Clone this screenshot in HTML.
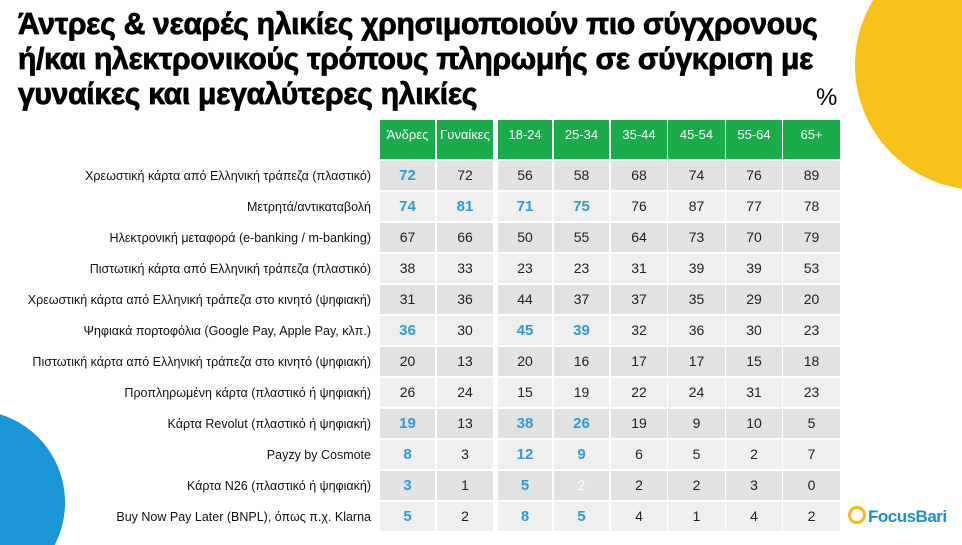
<!DOCTYPE html>
<html><head><meta charset="utf-8"><style>
html,body{margin:0;width:962px;height:545px;overflow:hidden}
body{background:#fff;font-family:"Liberation Sans",sans-serif}
#w{position:relative;width:962px;height:545px;overflow:hidden}
svg.bg{position:absolute;left:0;top:0}
.t{position:absolute;left:18px;top:6px;font-weight:900;font-size:31px;line-height:35px;color:#000;transform-origin:0 0;transform:scaleX(0.97);white-space:nowrap;letter-spacing:-0.3px;-webkit-text-stroke:0.8px #000}
.pct{position:absolute;left:816px;top:84px;font-size:24px}
.cell{position:absolute;text-align:center;font-size:14px;color:#222}
.h{background:#1aab4b;color:#fff;font-size:13px;padding-top:7px;box-sizing:border-box}
.lab{position:absolute;right:591px;font-size:12.5px;color:#111;white-space:nowrap}
.b{color:#2e9bd6;font-weight:bold;font-size:15px}
.logo{position:absolute;left:848px;top:506px;font-weight:bold;color:#1b8fd0;font-size:17px;letter-spacing:-0.5px}
.logo span{display:inline-block;width:12px;height:12px;border:3px solid #f5b91c;border-radius:50%;vertical-align:-2px;margin-right:2px}
</style></head><body><div id="w">
<svg class="bg" width="962" height="545"><path d="M962,188.7 A125,125 0 0 1 873.2,0 L962,0 Z" fill="#f9c21a"/><path d="M0,414.2 A92.5,92.5 0 0 1 54.7,545 L0,545 Z" fill="#1b95d8"/></svg>
<div class="t">Άντρες &amp; νεαρές ηλικίες χρησιμοποιούν πιο σύγχρονους<br>ή/και ηλεκτρονικούς τρόπους πληρωμής σε σύγκριση με<br>γυναίκες και μεγαλύτερες ηλικίες</div>
<div class="pct">%</div>
<div id="tb"></div>
<div class="logo"><span></span>FocusBari</div>
</div>
<script>
var cols=[[380,435],[437,493],[498,552],[554,609],[611,667],[668,725],[726,782],[783,840]];
var hd=["Άνδρες","Γυναίκες","18-24","25-34","35-44","45-54","55-64","65+"];
var rows=[["Χρεωστική κάρτα από Ελληνική τράπεζα (πλαστικό)","*72","72","56","58","68","74","76","89"],
["Μετρητά/αντικαταβολή","*74","*81","*71","*75","76","87","77","78"],
["Ηλεκτρονική μεταφορά (e-banking / m-banking)","67","66","50","55","64","73","70","79"],
["Πιστωτική κάρτα από Ελληνική τράπεζα (πλαστικό)","38","33","23","23","31","39","39","53"],
["Χρεωστική κάρτα από Ελληνική τράπεζα στο κινητό (ψηφιακή)","31","36","44","37","37","35","29","20"],
["Ψηφιακά πορτοφόλια (Google Pay, Apple Pay, κλπ.)","*36","30","*45","*39","32","36","30","23"],
["Πιστωτική κάρτα από Ελληνική τράπεζα στο κινητό (ψηφιακή)","20","13","20","16","17","17","15","18"],
["Προπληρωμένη κάρτα (πλαστικό ή ψηφιακή)","26","24","15","19","22","24","31","23"],
["Κάρτα Revolut (πλαστικό ή ψηφιακή)","*19","13","*38","*26","19","9","10","5"],
["Payzy by Cosmote","*8","3","*12","*9","6","5","2","7"],
["Κάρτα N26 (πλαστικό ή ψηφιακή)","*3","1","*5","~2","2","2","3","0"],
["Buy Now Pay Later (BNPL), όπως π.χ. Klarna","*5","2","*8","*5","4","1","4","2"]];
var h="";
cols.forEach(function(c,i){h+='<div class="cell h" style="left:'+c[0]+'px;top:120px;width:'+(c[1]-c[0])+'px;height:39px">'+hd[i]+'</div>';});
rows.forEach(function(r,j){var y=161+j*31;
h+='<div class="lab" style="top:'+(y+8)+'px">'+r[0]+'</div>';
cols.forEach(function(c,i){var v=r[i+1],cl="",col="";
if(v[0]=="*"){cl=" b";v=v.slice(1);} if(v[0]=="~"){v=v.slice(1);col="color:#fff;";}
h+='<div class="cell'+cl+'" style="'+col+'left:'+c[0]+'px;top:'+y+'px;width:'+(c[1]-c[0])+'px;height:29px;line-height:29px;background:'+(j%2?'#efefef':'#e2e2e2')+'">'+v+'</div>';});});
document.getElementById("tb").innerHTML=h;
</script>
</body></html>
